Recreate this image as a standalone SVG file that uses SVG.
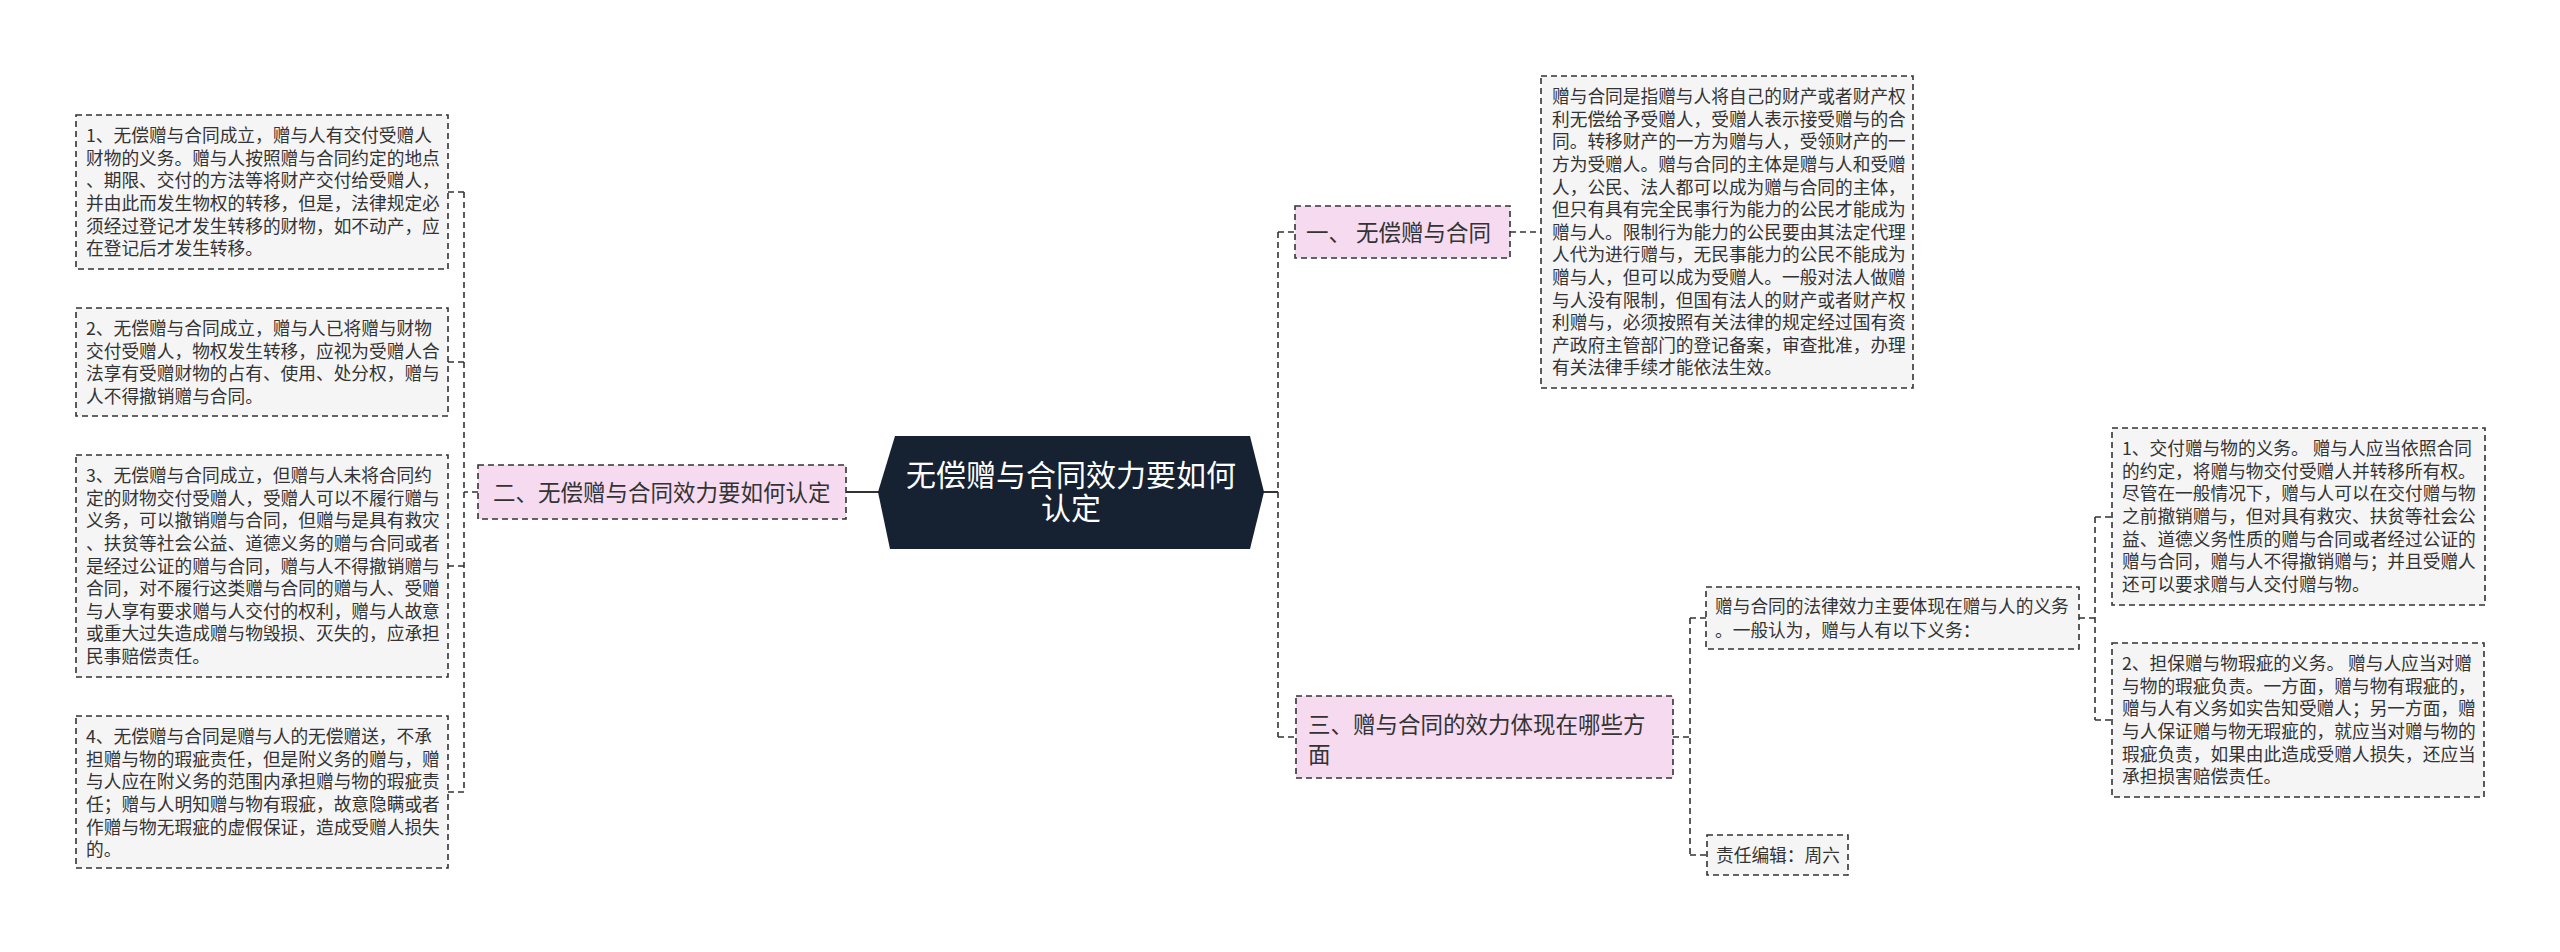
<svg xmlns="http://www.w3.org/2000/svg" width="2560" height="952" viewBox="0 0 2560 952">
<style>
.box{fill:#f5f5f5;stroke:#333;stroke-width:1.6;stroke-dasharray:6 4}
.pink{fill:#f6daf0;stroke:#333;stroke-width:1.6;stroke-dasharray:6 4}
.t{font-family:"Noto Sans CJK SC","Microsoft YaHei",sans-serif;font-size:17.7px;fill:#333}
.tb{font-family:"Noto Sans CJK SC","Microsoft YaHei",sans-serif;font-size:22.5px;fill:#333}
.tc{font-family:"Noto Sans CJK SC","Microsoft YaHei",sans-serif;font-size:30px;fill:#fff}
.c{fill:none;stroke:#333;stroke-width:1.6;stroke-dasharray:6 4}
.s{fill:none;stroke:#333;stroke-width:2}
</style>
<rect width="2560" height="952" fill="#fff"/>
<g id="connectors">
<path class="s" d="M846,492 H879"/>
<path class="s" d="M1263,492 H1278"/>
<path class="c" d="M478,492 H464"/>
<path class="c" d="M464,192 V792"/>
<path class="c" d="M464,192 H448 M464,362 H448 M464,566 H448 M464,792 H448"/>
<path class="c" d="M1278,232 V737"/>
<path class="c" d="M1278,232 H1295 M1278,737 H1296"/>
<path class="c" d="M1510,232 H1541"/>
<path class="c" d="M1673,737 H1690 M1690,618 V855 M1690,618 H1706 M1690,855 H1707"/>
<path class="c" d="M2079,618 H2095 M2095,517 V720 M2095,517 H2112 M2095,720 H2112"/>
</g>
<g id="center">
<polygon points="895,436 1250,436 1264,492 1250,549 890,549 878,492" fill="#162232"/>
<text class="tc" text-anchor="middle"><tspan x="1071" y="486">无偿赠与合同效力要如何</tspan><tspan x="1071" y="519">认定</tspan></text>
</g>
<g id="n2">
<rect class="pink" x="478" y="465" width="368" height="54"/>
<text class="tb" x="493" y="500.5">二、无偿赠与合同效力要如何认定</text>
</g>
<g id="n2a">
<rect class="box" x="76" y="115" width="372" height="154"/>
<text class="t"><tspan x="86" y="142.2">1、无偿赠与合同成立，赠与人有交付受赠人</tspan><tspan x="86" y="164.8">财物的义务。赠与人按照赠与合同约定的地点</tspan><tspan x="86" y="187.4">、期限、交付的方法等将财产交付给受赠人，</tspan><tspan x="86" y="210">并由此而发生物权的转移，但是，法律规定必</tspan><tspan x="86" y="232.6">须经过登记才发生转移的财物，如不动产，应</tspan><tspan x="86" y="255.2">在登记后才发生转移。</tspan></text>
</g>
<g id="n2b">
<rect class="box" x="76" y="308" width="372" height="108"/>
<text class="t"><tspan x="86" y="335.2">2、无偿赠与合同成立，赠与人已将赠与财物</tspan><tspan x="86" y="357.8">交付受赠人，物权发生转移，应视为受赠人合</tspan><tspan x="86" y="380.4">法享有受赠财物的占有、使用、处分权，赠与</tspan><tspan x="86" y="403">人不得撤销赠与合同。</tspan></text>
</g>
<g id="n2c">
<rect class="box" x="76" y="455" width="372" height="222"/>
<text class="t"><tspan x="86" y="482.2">3、无偿赠与合同成立，但赠与人未将合同约</tspan><tspan x="86" y="504.8">定的财物交付受赠人，受赠人可以不履行赠与</tspan><tspan x="86" y="527.4">义务，可以撤销赠与合同，但赠与是具有救灾</tspan><tspan x="86" y="550">、扶贫等社会公益、道德义务的赠与合同或者</tspan><tspan x="86" y="572.6">是经过公证的赠与合同，赠与人不得撤销赠与</tspan><tspan x="86" y="595.2">合同，对不履行这类赠与合同的赠与人、受赠</tspan><tspan x="86" y="617.8">与人享有要求赠与人交付的权利，赠与人故意</tspan><tspan x="86" y="640.4">或重大过失造成赠与物毁损、灭失的，应承担</tspan><tspan x="86" y="663">民事赔偿责任。</tspan></text>
</g>
<g id="n2d">
<rect class="box" x="76" y="716" width="372" height="152"/>
<text class="t"><tspan x="86" y="743.2">4、无偿赠与合同是赠与人的无偿赠送，不承</tspan><tspan x="86" y="765.8">担赠与物的瑕疵责任，但是附义务的赠与，赠</tspan><tspan x="86" y="788.4">与人应在附义务的范围内承担赠与物的瑕疵责</tspan><tspan x="86" y="811">任；赠与人明知赠与物有瑕疵，故意隐瞒或者</tspan><tspan x="86" y="833.6">作赠与物无瑕疵的虚假保证，造成受赠人损失</tspan><tspan x="86" y="856.2">的。</tspan></text>
</g>
<g id="n1">
<rect class="pink" x="1295" y="206" width="215" height="52"/>
<text class="tb" x="1306" y="240.5">一、 无偿赠与合同</text>
</g>
<g id="n1a">
<rect class="box" x="1541" y="76" width="372" height="312"/>
<text class="t"><tspan x="1552" y="103.2">赠与合同是指赠与人将自己的财产或者财产权</tspan><tspan x="1552" y="125.8">利无偿给予受赠人，受赠人表示接受赠与的合</tspan><tspan x="1552" y="148.4">同。转移财产的一方为赠与人，受领财产的一</tspan><tspan x="1552" y="171">方为受赠人。赠与合同的主体是赠与人和受赠</tspan><tspan x="1552" y="193.6">人，公民、法人都可以成为赠与合同的主体，</tspan><tspan x="1552" y="216.2">但只有具有完全民事行为能力的公民才能成为</tspan><tspan x="1552" y="238.8">赠与人。限制行为能力的公民要由其法定代理</tspan><tspan x="1552" y="261.4">人代为进行赠与，无民事能力的公民不能成为</tspan><tspan x="1552" y="284">赠与人，但可以成为受赠人。一般对法人做赠</tspan><tspan x="1552" y="306.6">与人没有限制，但国有法人的财产或者财产权</tspan><tspan x="1552" y="329.2">利赠与，必须按照有关法律的规定经过国有资</tspan><tspan x="1552" y="351.8">产政府主管部门的登记备案，审查批准，办理</tspan><tspan x="1552" y="374.4">有关法律手续才能依法生效。</tspan></text>
</g>
<g id="n3">
<rect class="pink" x="1296" y="696" width="377" height="82"/>
<text class="tb"><tspan x="1308" y="732.5">三、赠与合同的效力体现在哪些方</tspan><tspan x="1308" y="762.5">面</tspan></text>
</g>
<g id="n3a">
<rect class="box" x="1706" y="587" width="373" height="62"/>
<text class="t"><tspan x="1715" y="613">赠与合同的法律效力主要体现在赠与人的义务</tspan><tspan x="1715" y="637">。一般认为，赠与人有以下义务：</tspan></text>
</g>
<g id="n3b">
<rect class="box" x="1707" y="835" width="141" height="40"/>
<text class="t" x="1716" y="861.5">责任编辑：周六</text>
</g>
<g id="n3a1">
<rect class="box" x="2112" y="428" width="373" height="177"/>
<text class="t"><tspan x="2122" y="455.2">1、交付赠与物的义务。 赠与人应当依照合同</tspan><tspan x="2122" y="477.8">的约定，将赠与物交付受赠人并转移所有权。</tspan><tspan x="2122" y="500.4">尽管在一般情况下，赠与人可以在交付赠与物</tspan><tspan x="2122" y="523">之前撤销赠与，但对具有救灾、扶贫等社会公</tspan><tspan x="2122" y="545.6">益、道德义务性质的赠与合同或者经过公证的</tspan><tspan x="2122" y="568.2">赠与合同，赠与人不得撤销赠与；并且受赠人</tspan><tspan x="2122" y="590.8">还可以要求赠与人交付赠与物。</tspan></text>
</g>
<g id="n3a2">
<rect class="box" x="2112" y="643" width="372" height="154"/>
<text class="t"><tspan x="2122" y="670.2">2、担保赠与物瑕疵的义务。 赠与人应当对赠</tspan><tspan x="2122" y="692.8">与物的瑕疵负责。一方面，赠与物有瑕疵的，</tspan><tspan x="2122" y="715.4">赠与人有义务如实告知受赠人；另一方面，赠</tspan><tspan x="2122" y="738">与人保证赠与物无瑕疵的，就应当对赠与物的</tspan><tspan x="2122" y="760.6">瑕疵负责，如果由此造成受赠人损失，还应当</tspan><tspan x="2122" y="783.2">承担损害赔偿责任。</tspan></text>
</g>
</svg>
